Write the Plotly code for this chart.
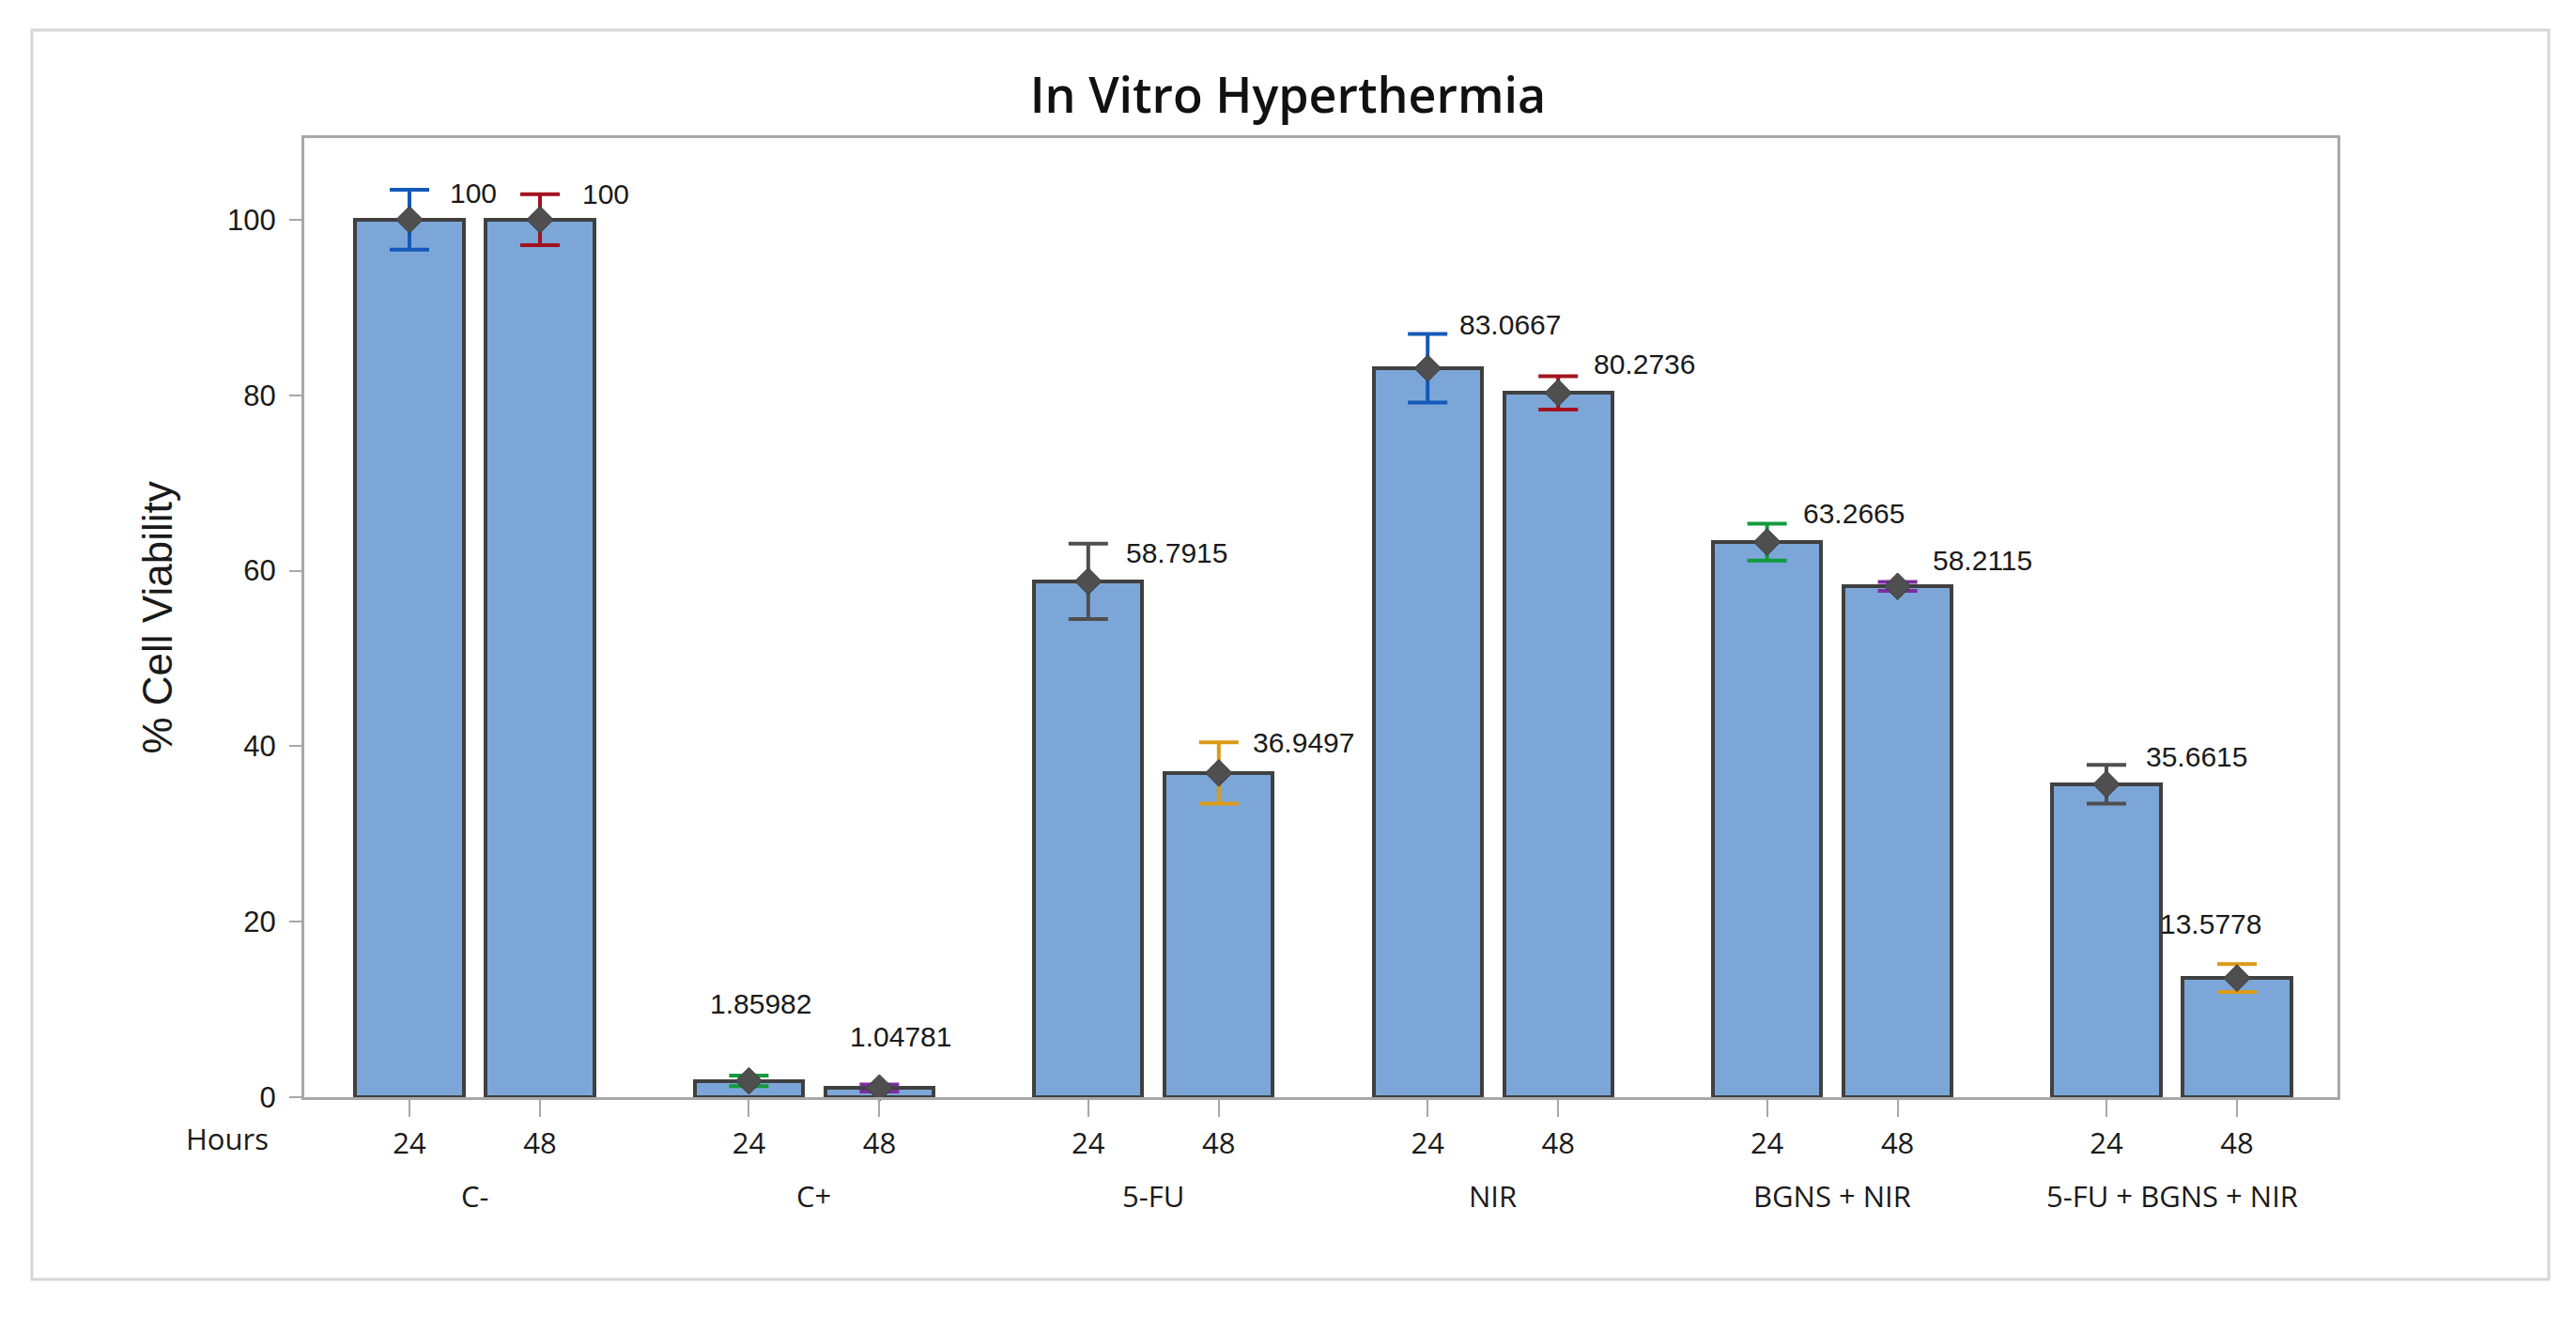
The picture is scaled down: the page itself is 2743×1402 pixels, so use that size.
import plotly.graph_objects as go

# ---------------- data ----------------
groups = ["C-", "C+", "5-FU", "NIR", "BGNS + NIR", "5-FU + BGNS + NIR"]
hours = ["24", "48"]
viability_24 = [100, 1.85982, 58.7915, 83.0667, 63.2665, 35.6615]
viability_48 = [100, 1.04781, 36.9497, 80.2736, 58.2115, 13.5778]
err_24 = [3.4, 0.6, 4.3, 3.9, 2.1, 2.2]
err_48 = [2.9, 0.4, 3.5, 1.9, 0.5, 1.6]
y_ticks = [0, 20, 40, 60, 80, 100]
title_text = "In Vitro Hyperthermia"
y_title = "% Cell Viability"
x_title = "Hours"

# ---------------- styles ----------------
GROUP_STEP = 2.6
BAR_WIDTH = 0.83
BAR_FILL = "#7ca6d8"
BAR_LINE = "#404040"
DIAMOND = "#4f4f4f"
ERR_COLORS = ["#1459b8", "#a3121f", "#129a3c", "#7a2e9e", "#4f4f4f", "#dc9a18"]
AXIS_COLOR = "#a8a8a8"
TEXT = "#1a1a1a"
SEGOE = "Open Sans"
ARIAL = "Liberation Sans"
# label offsets in pixels (relative to bar centre / upper error cap)
label_dx = [41, 43, -43, -33, 38, 34, 32, 36, 36, 35, 40, -84]
label_dy = [-3, 0, 77, 51, -10, 0, 10, 13, 11, 23, 9, 43]

# ---------------- build flat lists ----------------
xs, vals, errs, tick_text = [], [], [], []
for g in range(len(groups)):
    for h, hv in enumerate(hours):
        xs.append(g * GROUP_STEP + h)
        v = viability_24[g] if h == 0 else viability_48[g]
        e = err_24[g] if h == 0 else err_48[g]
        vals.append(v)
        errs.append(e)
        tick_text.append(hv)

fig = go.Figure()
fig.add_trace(go.Bar(
    x=xs, y=vals, width=BAR_WIDTH,
    marker=dict(color=BAR_FILL, line=dict(color=BAR_LINE, width=4)),
    hoverinfo="skip", showlegend=False,
))

for c, col in enumerate(ERR_COLORS):
    idx = [i for i in range(len(xs)) if i % len(ERR_COLORS) == c]
    fig.add_trace(go.Scatter(
        x=[xs[i] for i in idx], y=[vals[i] for i in idx], mode="markers",
        marker=dict(symbol="diamond", size=22, color=DIAMOND,
                    line=dict(color="#3c3c3c", width=1)),
        error_y=dict(type="data", array=[errs[i] for i in idx], visible=True,
                     color=col, thickness=4, width=21),
        showlegend=False, hoverinfo="skip", cliponaxis=False,
    ))

annotations = []
for i, (x, v, e) in enumerate(zip(xs, vals, errs)):
    annotations.append(dict(
        x=x, y=v + e, xref="x", yref="y", text=f"{v:.6g}", showarrow=False,
        xanchor="left", yanchor="middle", xshift=label_dx[i], yshift=label_dy[i],
        font=dict(family=ARIAL, size=30, color=TEXT),
    ))

for g, name in enumerate(groups):
    annotations.append(dict(
        x=g * GROUP_STEP + 0.5, y=0, xref="x", yref="paper", text=name,
        showarrow=False, xanchor="center", yanchor="middle", yshift=-105,
        font=dict(family=SEGOE, size=31, color=TEXT),
    ))

# layout geometry (pixels)
W, H = 2743, 1402
L, R, T, B = 324, 254, 147, 234
pw, ph = W - L - R, H - T - B

annotations.append(dict(
    x=(288 - L) / pw, y=0, xref="paper", yref="paper", text=x_title,
    showarrow=False, xanchor="right", yanchor="middle", yshift=-44,
    font=dict(family=SEGOE, size=31, color=TEXT),
))
annotations.append(dict(
    x=(167 - L) / pw, y=0.5, xref="paper", yref="paper", text=y_title,
    showarrow=False, xanchor="center", yanchor="middle", textangle=-90,
    font=dict(family=ARIAL, size=44, color=TEXT),
))

fig.update_layout(
    width=W, height=H,
    margin=dict(l=L, r=R, t=T, b=B, pad=0),
    paper_bgcolor="white", plot_bgcolor="white",
    title=dict(text=title_text, x=0.5, xref="container", xanchor="center",
               y=1 - 102 / H, yref="container", yanchor="middle",
               font=dict(family=SEGOE, size=52, color="#111111", weight=600)),
    annotations=annotations,
    bargap=0,
    shapes=[dict(type="rect", xref="paper", yref="paper",
                 x0=(34 - L) / pw, x1=(2714 - L) / pw,
                 y0=(H - B - 1362) / ph, y1=(H - B - 32) / ph,
                 line=dict(color="#d6d6d6", width=3), fillcolor="rgba(0,0,0,0)",
                 layer="below")],
)
fig.update_xaxes(
    range=[-112 / 139, (2489 - 436) / 139],
    tickmode="array", tickvals=xs, ticktext=tick_text,
    ticks="outside", ticklen=18, tickwidth=2, tickcolor=AXIS_COLOR,
    tickfont=dict(family=SEGOE, size=31, color=TEXT),
    showline=True, linecolor=AXIS_COLOR, linewidth=3, mirror=True,
    showgrid=False, zeroline=False, ticklabelstandoff=2,
)
fig.update_yaxes(
    range=[0, 109.3], tickmode="array", tickvals=y_ticks,
    ticks="outside", ticklen=13, tickwidth=2, tickcolor=AXIS_COLOR,
    tickfont=dict(family=ARIAL, size=31, color=TEXT),
    showline=True, linecolor=AXIS_COLOR, linewidth=3, mirror=True,
    showgrid=False, zeroline=False, ticklabelstandoff=8,
)

fig.write_html("out.html", config={"displayModeBar": False},
               post_script="document.body.style.margin='0';")
